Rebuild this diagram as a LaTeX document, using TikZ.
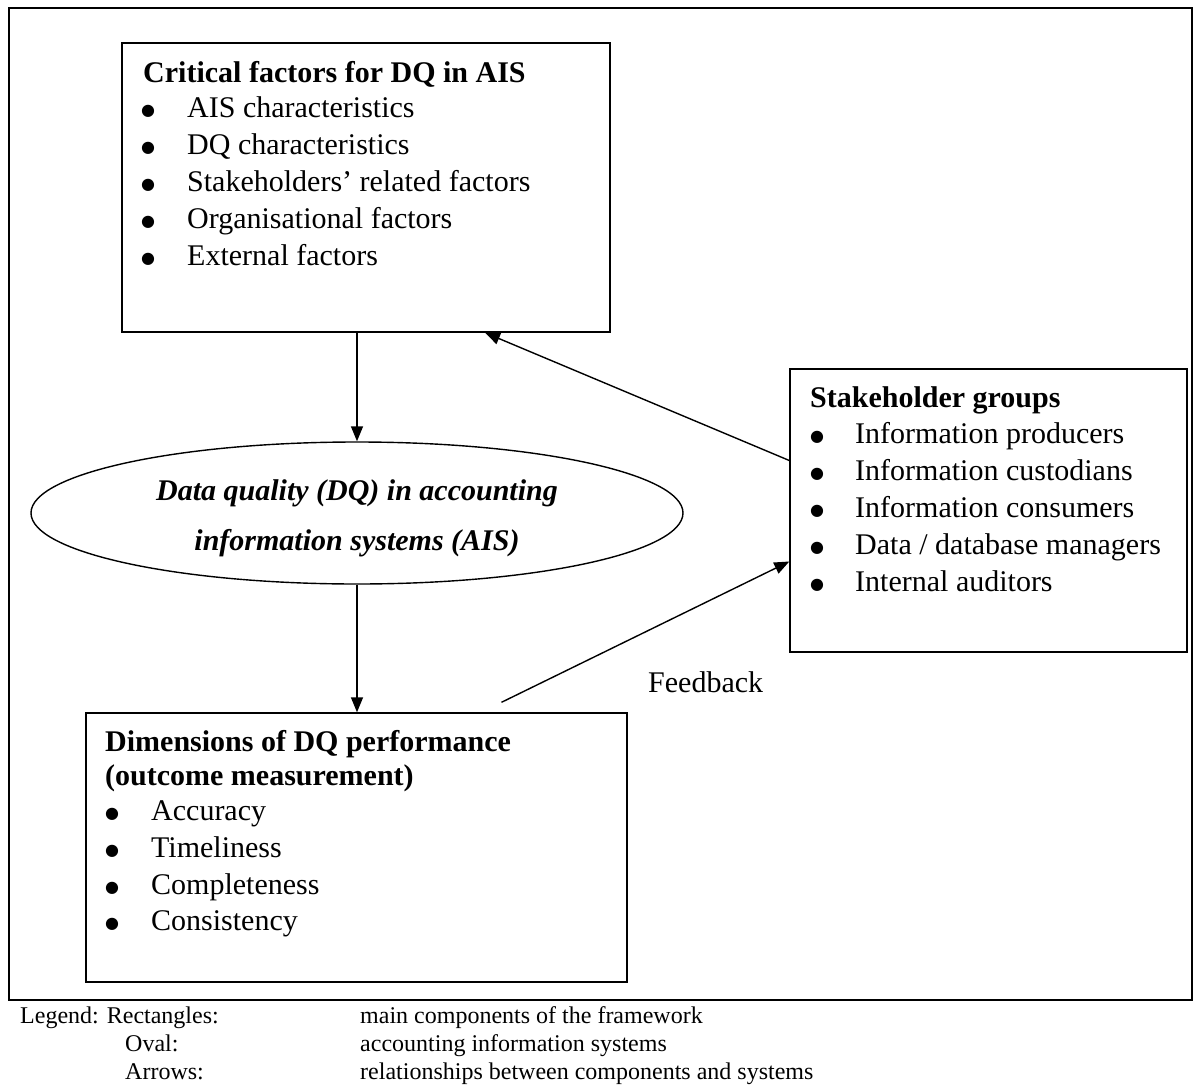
\documentclass[tikz,border=0pt]{standalone}
\usepackage{fontspec}
\setmainfont{Liberation Serif}
\newfontfamily\dotfont{DejaVu Sans}
\usetikzlibrary{arrows.meta,shapes.geometric}
\begin{document}
\begin{tikzpicture}[x=1pt,y=-1pt,
  frame/.style={draw, line width=2pt},
  panel/.style={draw, line width=1.4pt, rectangle, inner sep=0pt},
  oval/.style={draw, line width=1.4pt, ellipse, inner sep=0pt},
  link/.style={line width=1.4pt, -{Triangle[length=15pt,width=12pt]}},
  head/.style={anchor=base west, inner sep=0pt, font=\fontsize{30}{37}\selectfont\bfseries},
  item/.style={anchor=base west, inner sep=0pt, font=\fontsize{30}{37}\selectfont},
  dot/.style={anchor=base, inner sep=0pt, font=\dotfont\fontsize{16}{16}\selectfont},
  ovaltext/.style={anchor=base, inner sep=0pt, font=\fontsize{30}{37}\selectfont\bfseries\itshape},
  legend/.style={anchor=base west, inner sep=0pt, font=\fontsize{24}{28}\selectfont},
]
\useasboundingbox (0,0) rectangle (1195,1087);

% outer frame
\draw[frame] (9,8) rectangle (1192,1000);

% main components
\node[panel, minimum width=488pt, minimum height=289pt] (crit)  at (366,187.5) {};
\node[panel, minimum width=397pt, minimum height=283pt] (stake) at (988.5,510.5) {};
\node[panel, minimum width=541pt, minimum height=269pt] (dim)   at (356.5,847.5) {};
\node[oval,  minimum width=652pt, minimum height=142pt] (ais)   at (357,513) {};

% critical factors
\node[head] (critT) at (143,82) {Critical factors for DQ in AIS};
\foreach \y/\t [count=\i] in {117/{AIS characteristics}, 154/{DQ characteristics},
    191/{Stakeholders’ related factors}, 228/{Organisational factors}, 265/{External factors}}{
  \node[dot] (critB\i) at (148,\y) {\raisebox{1.5pt}{●}};
  \node[item] (critI\i) at (187,\y) {\t};
}

% stakeholder groups
\node[head] (stakeT) at (810,407) {Stakeholder groups};
\foreach \y/\t [count=\i] in {443/{Information producers}, 480/{Information custodians},
    517/{Information consumers}, 554/{Data / database managers}, 591/{Internal auditors}}{
  \node[dot] (stakeB\i) at (817,\y) {\raisebox{1.5pt}{●}};
  \node[item] (stakeI\i) at (855,\y) {\t};
}

% dimensions of performance
\node[head] (dimT1) at (105,751) {Dimensions of DQ performance};
\node[head] (dimT2) at (105,785) {(outcome measurement)};
\foreach \y/\t [count=\i] in {820/{Accuracy}, 857/{Timeliness}, 894/{Completeness}, 930/{Consistency}}{
  \node[dot] (dimB\i) at (112,\y) {\raisebox{1.5pt}{●}};
  \node[item] (dimI\i) at (151,\y) {\t};
}

% oval text
\node[ovaltext] (aisT1) at (357,500) {Data quality (DQ) in accounting};
\node[ovaltext] (aisT2) at (357,550) {information systems (AIS)};

% relationships
\draw[link] (ais.north |- crit.south) -- (ais.north);
\draw[link] (ais.south) -- (ais.south |- dim.north);
\draw[link] ([yshift=50pt]stake.west) -- ([xshift=119pt]crit.south);
\draw[link] ([xshift=145pt,yshift=10pt]dim.north) -- ([yshift=-51pt]stake.west);
\node[item] (fb) at (648,692) {Feedback};

% legend
\node[legend] (lg1) at (20,1023) {Legend: Rectangles:};
\node[legend] (lg2) at (125,1051) {Oval:};
\node[legend] (lg3) at (125,1079) {Arrows:};
\node[legend] (ld1) at (360,1023) {main components of the framework};
\node[legend] (ld2) at (360,1051) {accounting information systems};
\node[legend] (ld3) at (360,1079) {relationships between components and systems};
\end{tikzpicture}
\end{document}
